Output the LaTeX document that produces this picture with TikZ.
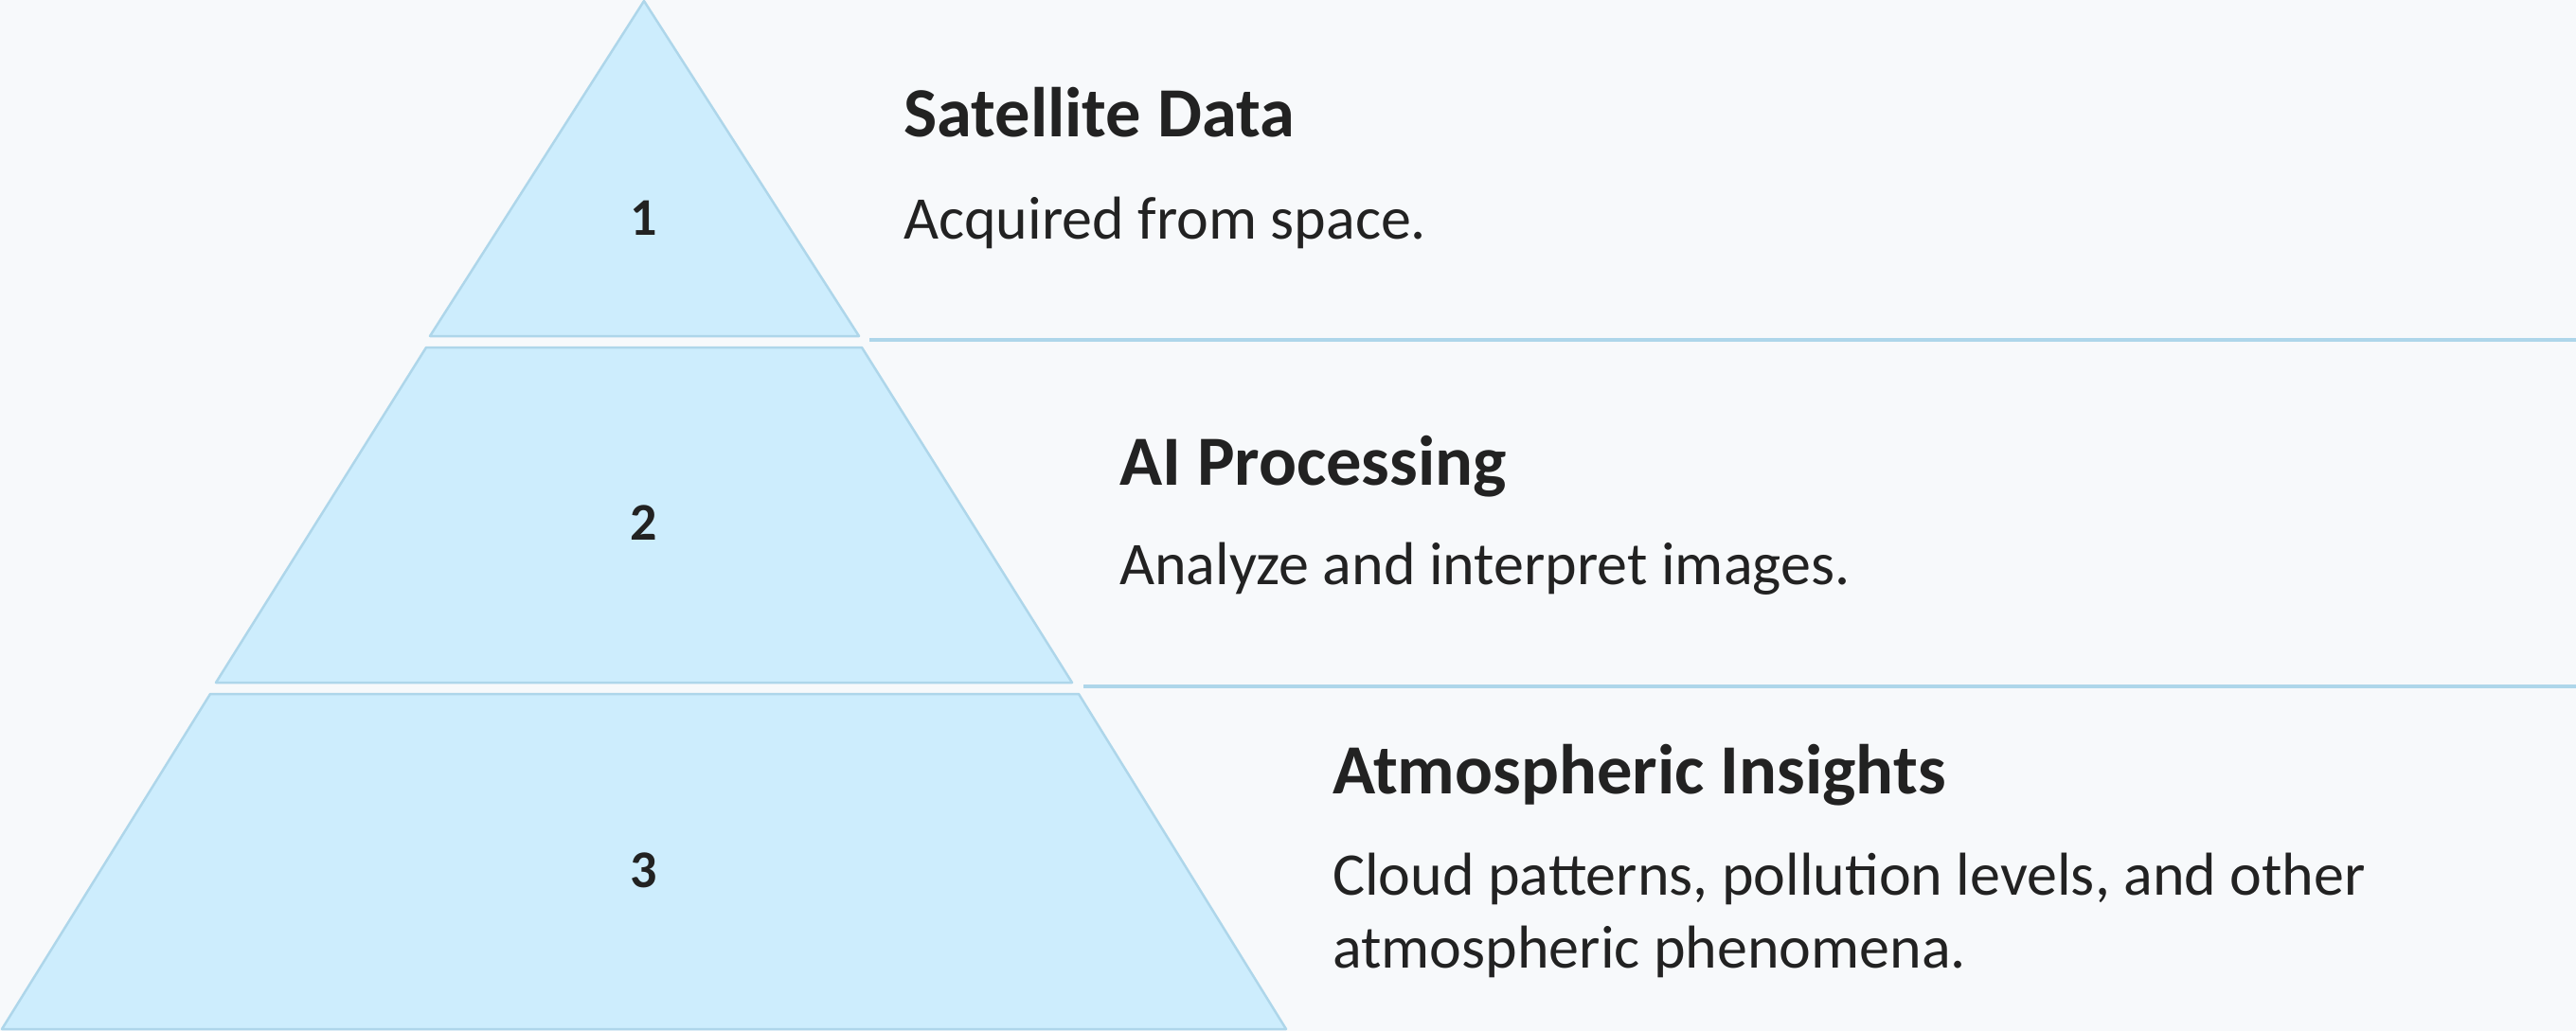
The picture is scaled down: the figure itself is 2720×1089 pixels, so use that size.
\documentclass[tikz,border=0pt]{standalone}
\usepackage{fontspec}
\setmainfont{Carlito}
\definecolor{tierfill}{HTML}{CDEDFD}
\definecolor{tierline}{HTML}{AED6EA}
\definecolor{ink}{HTML}{222222}
\definecolor{paper}{HTML}{F7F9FB}
\begin{document}
\begin{tikzpicture}[x=1pt,y=-1pt,
  tier/.style={fill=tierfill,draw=tierline,line width=2.5pt,line join=round},
  rule/.style={draw=tierline,line width=3.5pt},
  num/.style={anchor=base,inner sep=0,font=\fontsize{56}{60}\selectfont\bfseries,text=ink},
  title/.style={anchor=base west,inner sep=0,font=\fontsize{74.5}{90}\selectfont\bfseries,text=ink},
  body/.style={anchor=base west,inner sep=0,font=\fontsize{64}{77}\selectfont,text=ink,align=left}]
% page background
\fill[paper] (0,0) rectangle (2720,1089);
\useasboundingbox (0,0) rectangle (2720,1089);

% pyramid tiers
\draw[tier] (680,1) -- (907,355) -- (454,355) -- cycle;
\draw[tier] (450,367) -- (910,367) -- (1132,721) -- (228,721) -- cycle;
\draw[tier] (222,733) -- (1139,733) -- (1358,1087) -- (2,1087) -- cycle;

% separators
\coordinate (r1a) at (918,359);
\coordinate (r1b) at (2720,359);
\coordinate (r2a) at (1144,725);
\coordinate (r2b) at (2720,725);
\draw[rule] (r1a) -- (r1b);
\draw[rule] (r2a) -- (r2b);

% tier numbers
\node[num] (n1) at (680,248) {1};
\node[num] (n2) at (680,570) {2};
\node[num] (n3) at (680,937) {3};

% tier descriptions (multi-line body is anchored on its last baseline)
\node[title] (t1) at (954,145) {Satellite Data};
\node[body]  (b1) at (954,252) {Acquired from space.};
\node[title] (t2) at (1182,512) {AI Processing};
\node[body]  (b2) at (1182,617) {Analyze and interpret images.};
\node[title] (t3) at (1407,838) {Atmospheric Insights};
\node[body]  (b3) at (1407,1022) {Cloud patterns, pollution levels, and other\\atmospheric phenomena.};
\end{tikzpicture}
\end{document}
